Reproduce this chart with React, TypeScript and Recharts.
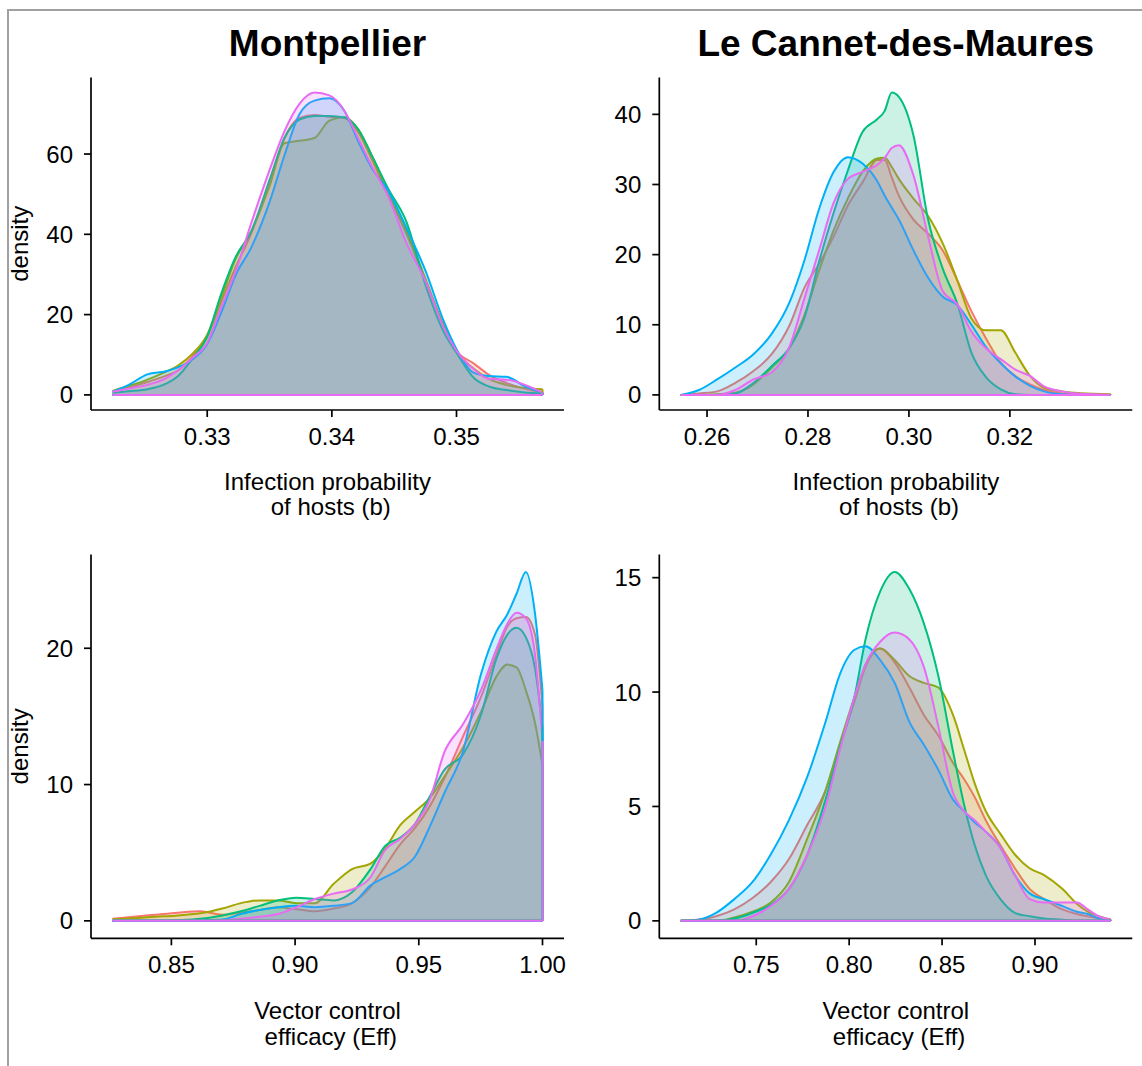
import { ComposedChart, Area, XAxis, YAxis, ReferenceLine } from "recharts";

const FONT = '"Liberation Sans", Arial, Helvetica, sans-serif';

// ggplot default hue palette for 5 groups
const GROUP_COLORS = ["#F8766D", "#A3A500", "#00BF7D", "#00B0F6", "#E76BF3"];
const GROUP_KEYS = ["g1", "g2", "g3", "g4", "g5"];

// Montpellier - infection probability of hosts (b)
const montB_x = [0.3224, 0.3237, 0.3252, 0.3267, 0.3276, 0.3288, 0.33, 0.3311, 0.3323, 0.3335, 0.335, 0.3362, 0.3374, 0.3386, 0.3398, 0.341, 0.3421, 0.3433, 0.3445, 0.346, 0.3475, 0.349, 0.35, 0.3514, 0.3526, 0.354, 0.3555, 0.3569];
const montB_g1 = [0.8, 1.8, 3.2, 4.8, 6.0, 9.5, 14.5, 23, 32, 40, 53, 64, 69, 69.7, 69.3, 69, 65.5, 58, 50, 40, 28.5, 17, 11, 7.8, 5, 3, 1.5, 0.6];
const montB_g2 = [1.0, 2.2, 3.8, 5.8, 7.2, 10.2, 15, 24, 34, 40.5, 52, 62.7, 63.3, 64, 68.3, 69.2, 66.2, 59, 50.5, 41, 29, 17, 10.8, 6.5, 4, 2.5, 1.7, 1.4];
const montB_g3 = [0.5, 0.9, 1.4, 2.8, 4.5, 9, 14.5, 25, 34.5, 40.5, 53.5, 64, 68.6, 69.5, 69.5, 69.1, 66.2, 59, 51.5, 43, 27.5, 15.5, 10.5, 4.2, 2.1, 1.2, 0.6, 0.4];
const montB_g4 = [0.8, 2.5, 5.1, 5.9, 6.8, 8.8, 12.7, 20.3, 30, 36.5, 48, 59.7, 69.9, 73.3, 73.9, 70.8, 63.2, 56, 51, 41.5, 31, 18.2, 11.4, 5.5, 4.7, 4.5, 2.1, 0.6];
const montB_g5 = [0.8, 1.6, 2.5, 4.2, 6, 9.2, 13, 21.6, 31, 42.5, 56, 65.7, 72.5, 75.3, 74.6, 70.8, 64, 56.4, 49.6, 37.7, 28.4, 16.5, 11, 6.4, 4, 3.8, 2.5, 0.6];

// Le Cannet-des-Maures - infection probability of hosts (b)
const cannB_x = [0.2548, 0.2584, 0.262, 0.2656, 0.2692, 0.2728, 0.2764, 0.2793, 0.2822, 0.2851, 0.2879, 0.2908, 0.2937, 0.2952, 0.2966, 0.298, 0.3009, 0.3038, 0.3067, 0.3096, 0.3124, 0.3153, 0.3182, 0.3211, 0.324, 0.3268, 0.3304, 0.334, 0.34];
const cannB_g1 = [0, 0.2, 0.5, 1.7, 3.4, 5.8, 10, 15.3, 18.7, 22.6, 27, 30.3, 33.5, 33.5, 31, 28.4, 25, 23, 20.6, 16.3, 11.9, 8, 4.6, 2.7, 1.5, 0.7, 0.2, 0.05, 0];
const cannB_g2 = [0, 0, 0.1, 0.3, 1.5, 3.9, 6.8, 11.4, 17.7, 23.5, 28, 31.8, 33.7, 33.8, 32.5, 30.8, 28, 25.5, 21.6, 16.3, 10.9, 9.2, 9.2, 6, 2.7, 1, 0.5, 0.25, 0.1];
const cannB_g3 = [0, 0, 0, 0.2, 1.7, 4.1, 6.8, 11, 19, 26, 32, 37.5, 39.3, 40.5, 43.1, 42.5, 37, 25, 18, 13, 6, 2.5, 0.8, 0.1, 0, 0, 0, 0, 0];
const cannB_g4 = [0, 0.7, 2.2, 3.9, 5.8, 8.7, 13.3, 19.2, 26.5, 31.8, 33.9, 33, 30.5, 28.4, 26.7, 25, 20.6, 16.7, 14, 12.8, 10, 6.8, 4.5, 2.6, 1.3, 0.5, 0.1, 0, 0];
const cannB_g5 = [0, 0, 0, 0.7, 2.2, 3.2, 7, 13.8, 20.6, 27.4, 30.8, 31.8, 32.8, 33.8, 35.2, 35.6, 31.3, 22.6, 14.8, 12.9, 9, 6.6, 5.1, 3.6, 2.7, 1.2, 0.5, 0.15, 0];

// Montpellier - vector control efficacy (Eff)
const montE_x = [0.8262, 0.8348, 0.8437, 0.8527, 0.8617, 0.8706, 0.8781, 0.8856, 0.8931, 0.9005, 0.908, 0.9155, 0.923, 0.9305, 0.9364, 0.9424, 0.9484, 0.9544, 0.9604, 0.9678, 0.9753, 0.9813, 0.9858, 0.9895, 0.9933, 0.997, 1.0];
const montE_g1 = [0.15, 0.3, 0.45, 0.6, 0.7, 0.45, 0.6, 0.8, 1.0, 0.85, 0.7, 0.9, 1.3, 2.5, 4.0, 5.6, 6.8, 8.4, 10.5, 13.5, 16.5, 19.5, 21.6, 22.2, 22.3, 21, 15.7];
const montE_g2 = [0.1, 0.2, 0.3, 0.4, 0.55, 0.9, 1.3, 1.5, 1.5, 1.3, 1.3, 2.7, 3.8, 4.2, 5.3, 7.0, 8.0, 9.0, 10.6, 12.7, 15.4, 17.9, 18.8, 18.6, 16.9, 14.5, 11.4];
const montE_g3 = [0, 0, 0, 0.05, 0.15, 0.4, 0.7, 1.1, 1.5, 1.7, 1.6, 1.5, 2.1, 3.8, 5.5, 6.1, 7.1, 9.1, 11.1, 12.2, 15.2, 19.2, 21.0, 21.5, 20.8, 18.5, 14.2];
const montE_g4 = [0, 0, 0, 0, 0.05, 0.1, 0.5, 0.8, 1.0, 1.1, 1.0, 1.1, 1.3, 2.6, 3.2, 3.8, 4.7, 6.9, 9.4, 12.4, 18.2, 21.2, 22.5, 24, 25.6, 22.5, 16.9];
const montE_g5 = [0, 0, 0, 0, 0, 0.05, 0.15, 0.3, 0.5, 1.0, 1.6, 2.0, 2.3, 3.2, 5.2, 6.0, 7.1, 8.9, 12.4, 14.4, 17, 19.9, 21.8, 22.6, 22.2, 19.5, 13.2];

// Le Cannet-des-Maures - vector control efficacy (Eff)
const cannE_x = [0.7094, 0.7186, 0.7284, 0.7382, 0.748, 0.7578, 0.7676, 0.7775, 0.7873, 0.7951, 0.8029, 0.8088, 0.8167, 0.8245, 0.8324, 0.8402, 0.848, 0.8559, 0.8618, 0.8676, 0.8735, 0.8814, 0.8892, 0.8971, 0.9049, 0.9147, 0.9225, 0.9284, 0.9343, 0.9408];
const cannE_g1 = [0, 0.05, 0.2, 0.5, 1.0, 1.7, 2.7, 4.2, 5.7, 7.7, 9.6, 11.1, 11.9, 11.3, 10.2, 9.0, 8.1, 6.9, 6.2, 5.4, 4.4, 3.3, 2.3, 1.4, 0.95, 0.5, 0.3, 0.2, 0.12, 0.05];
const cannE_g2 = [0, 0, 0, 0.15, 0.4, 0.8, 1.7, 3.6, 5.7, 7.8, 9.8, 11.2, 11.9, 11.4, 10.7, 10.4, 10.2, 9.0, 7.5, 6.0, 4.8, 3.8, 2.9, 2.3, 2.0, 1.4, 0.75, 0.4, 0.2, 0.05];
const cannE_g3 = [0, 0, 0, 0.1, 0.35, 0.7, 1.4, 2.9, 5.3, 7.6, 9.8, 12.3, 14.4, 15.25, 14.5, 13, 10.7, 7.4, 5.1, 3.3, 2.0, 0.95, 0.35, 0.2, 0.1, 0.05, 0, 0, 0, 0];
const cannE_g4 = [0, 0.05, 0.35, 0.95, 1.7, 2.9, 4.4, 6.3, 8.7, 10.8, 11.85, 12.0, 11.4, 10.4, 8.7, 7.7, 6.6, 5.3, 4.8, 4.3, 3.9, 3.2, 2.0, 1.2, 0.95, 0.65, 0.4, 0.3, 0.1, 0.03];
const cannE_g5 = [0, 0, 0, 0, 0.2, 0.65, 1.4, 2.9, 5.0, 7.5, 9.8, 11.2, 12.2, 12.6, 12.3, 11.1, 8.5, 5.6, 4.8, 4.4, 3.9, 3.2, 2.0, 0.95, 0.8, 0.8, 0.8, 0.5, 0.2, 0.05];

const xTicksMontB = [0.33, 0.34, 0.35];
const xTicksCannB = [0.26, 0.28, 0.3, 0.32];
const xTicksMontE = [0.85, 0.9, 0.95, 1.0];
const xTicksCannE = [0.75, 0.8, 0.85, 0.9];
const yTicksMontB = [0, 20, 40, 60];
const yTicksCannB = [0, 10, 20, 30, 40];
const yTicksMontE = [0, 10, 20];
const yTicksCannE = [0, 5, 10, 15];

const titles = ["Montpellier", "Le Cannet-des-Maures"];
const xTitleB = ["Infection probability", "of hosts (b)"];
const xTitleE = ["Vector control", "efficacy (Eff)"];
const yTitle = "density";

const YAXIS_W = 60;
const XAXIS_H = 50;

type Box = { left: number; top: number; width: number; height: number };
type Plot = { left: number; top: number; right: number; bottom: number };

interface PanelProps {
  xs: number[];
  series: number[][];
  xTicks: number[];
  yTicks: number[];
  box: Box;
  plot: Plot;
}

function DensityPanel({ xs, series, xTicks, yTicks, box, plot }: PanelProps) {
  const data = xs.map((x, i) => {
    const row: Record<string, number> = { x };
    series.forEach((s, k) => {
      row[GROUP_KEYS[k]] = s[i];
    });
    return row;
  });

  // ggplot-style 5% expansion on both axes
  const x0 = xs[0];
  const x1 = xs[xs.length - 1];
  const xr = x1 - x0;
  const yMax = Math.max(...series.flat());

  const margin = {
    left: plot.left - box.left - YAXIS_W,
    right: box.left + box.width - plot.right,
    top: plot.top - box.top,
    bottom: box.top + box.height - plot.bottom - XAXIS_H,
  };

  const tickStyle = { fill: "#000", fontSize: 24, fontFamily: FONT };
  const lineStyle = { stroke: "#000", strokeWidth: 1.7 };

  return (
    <div style={{ position: "absolute", left: box.left, top: box.top }}>
      <ComposedChart width={box.width} height={box.height} data={data} margin={margin}>
        <XAxis
          type="number"
          dataKey="x"
          domain={[x0 - 0.05 * xr, x1 + 0.05 * xr]}
          ticks={xTicks}
          interval={0}
          tickFormatter={(v: number) => v.toFixed(2)}
          height={XAXIS_H}
          tick={tickStyle}
          axisLine={lineStyle}
          tickLine={lineStyle}
          tickSize={7}
          tickMargin={11}
          allowDataOverflow
        />
        <YAxis
          type="number"
          domain={[-0.05 * yMax, 1.05 * yMax]}
          ticks={yTicks}
          interval={0}
          width={YAXIS_W}
          tick={tickStyle}
          axisLine={lineStyle}
          tickLine={lineStyle}
          tickSize={7}
          tickMargin={11}
          allowDataOverflow
        />
        {series.flatMap((s, k) => {
          const color = GROUP_COLORS[k];
          const last = s[s.length - 1];
          return [
            <Area
              key={`a${k}`}
              type="monotone"
              dataKey={GROUP_KEYS[k]}
              stroke={color}
              strokeWidth={2}
              fill={color}
              fillOpacity={0.2}
              baseValue={0}
              dot={false}
              activeDot={false}
              isAnimationActive={false}
            />,
            <ReferenceLine
              key={`b${k}`}
              segment={[
                { x: x0, y: 0 },
                { x: x1, y: 0 },
              ]}
              stroke={color}
              strokeWidth={2}
            />,
            <ReferenceLine
              key={`e${k}`}
              segment={[
                { x: x1, y: 0 },
                { x: x1, y: last },
              ]}
              stroke={color}
              strokeWidth={2}
            />,
          ];
        })}
      </ComposedChart>
    </div>
  );
}

const TOP_PLOT_Y = [77.5, 410];
const BOT_PLOT_Y = [554.5, 938.3];
const LEFT_PLOT_X = [91, 564];
const RIGHT_PLOT_X = [659.3, 1132.3];

export default function App() {
  const leftMid = (LEFT_PLOT_X[0] + LEFT_PLOT_X[1]) / 2;
  const rightMid = (RIGHT_PLOT_X[0] + RIGHT_PLOT_X[1]) / 2;
  const topMid = (TOP_PLOT_Y[0] + TOP_PLOT_Y[1]) / 2;
  const botMid = (BOT_PLOT_Y[0] + BOT_PLOT_Y[1]) / 2;

  return (
    <div
      style={{
        position: "absolute",
        left: 0,
        top: 0,
        width: 1142,
        height: 1066,
        background: "#fff",
        overflow: "hidden",
        fontFamily: FONT,
      }}
    >
      <div
        style={{
          position: "absolute",
          left: 7,
          top: 9,
          width: 1142 - 7,
          height: 1066 - 9,
          borderTop: "2px solid #a0a0a0",
          borderLeft: "2px solid #a0a0a0",
          boxSizing: "border-box",
        }}
      />
      <DensityPanel
        xs={montB_x}
        series={[montB_g1, montB_g2, montB_g3, montB_g4, montB_g5]}
        xTicks={xTicksMontB}
        yTicks={yTicksMontB}
        box={{ left: 0, top: 0, width: 575, height: 530 }}
        plot={{ left: LEFT_PLOT_X[0], right: LEFT_PLOT_X[1], top: TOP_PLOT_Y[0], bottom: TOP_PLOT_Y[1] }}
      />
      <DensityPanel
        xs={cannB_x}
        series={[cannB_g1, cannB_g2, cannB_g3, cannB_g4, cannB_g5]}
        xTicks={xTicksCannB}
        yTicks={yTicksCannB}
        box={{ left: 575, top: 0, width: 567, height: 530 }}
        plot={{ left: RIGHT_PLOT_X[0], right: RIGHT_PLOT_X[1], top: TOP_PLOT_Y[0], bottom: TOP_PLOT_Y[1] }}
      />
      <DensityPanel
        xs={montE_x}
        series={[montE_g1, montE_g2, montE_g3, montE_g4, montE_g5]}
        xTicks={xTicksMontE}
        yTicks={yTicksMontE}
        box={{ left: 0, top: 530, width: 575, height: 536 }}
        plot={{ left: LEFT_PLOT_X[0], right: LEFT_PLOT_X[1], top: BOT_PLOT_Y[0], bottom: BOT_PLOT_Y[1] }}
      />
      <DensityPanel
        xs={cannE_x}
        series={[cannE_g1, cannE_g2, cannE_g3, cannE_g4, cannE_g5]}
        xTicks={xTicksCannE}
        yTicks={yTicksCannE}
        box={{ left: 575, top: 530, width: 567, height: 536 }}
        plot={{ left: RIGHT_PLOT_X[0], right: RIGHT_PLOT_X[1], top: BOT_PLOT_Y[0], bottom: BOT_PLOT_Y[1] }}
      />
      <svg
        width={1142}
        height={1066}
        style={{ position: "absolute", left: 0, top: 0, pointerEvents: "none" }}
        fontFamily={FONT}
      >
        <text x={leftMid} y={56} textAnchor="middle" fontSize={37} fontWeight="bold" fill="#000">
          {titles[0]}
        </text>
        <text x={rightMid} y={56} textAnchor="middle" fontSize={37} fontWeight="bold" fill="#000">
          {titles[1]}
        </text>

        <text x={leftMid} y={490} textAnchor="middle" fontSize={24} fill="#000">{xTitleB[0]}</text>
        <text x={leftMid + 3.3} y={515} textAnchor="middle" fontSize={24} fill="#000">{xTitleB[1]}</text>
        <text x={rightMid} y={490} textAnchor="middle" fontSize={24} fill="#000">{xTitleB[0]}</text>
        <text x={rightMid + 3.3} y={515} textAnchor="middle" fontSize={24} fill="#000">{xTitleB[1]}</text>

        <text x={leftMid} y={1019} textAnchor="middle" fontSize={24} fill="#000">{xTitleE[0]}</text>
        <text x={leftMid + 3.3} y={1044.5} textAnchor="middle" fontSize={24} fill="#000">{xTitleE[1]}</text>
        <text x={rightMid} y={1019} textAnchor="middle" fontSize={24} fill="#000">{xTitleE[0]}</text>
        <text x={rightMid + 3.3} y={1044.5} textAnchor="middle" fontSize={24} fill="#000">{xTitleE[1]}</text>

        <text x={28} y={topMid} textAnchor="middle" fontSize={24} fill="#000" transform={`rotate(-90 28 ${topMid})`}>
          {yTitle}
        </text>
        <text x={28} y={botMid} textAnchor="middle" fontSize={24} fill="#000" transform={`rotate(-90 28 ${botMid})`}>
          {yTitle}
        </text>
      </svg>
    </div>
  );
}
